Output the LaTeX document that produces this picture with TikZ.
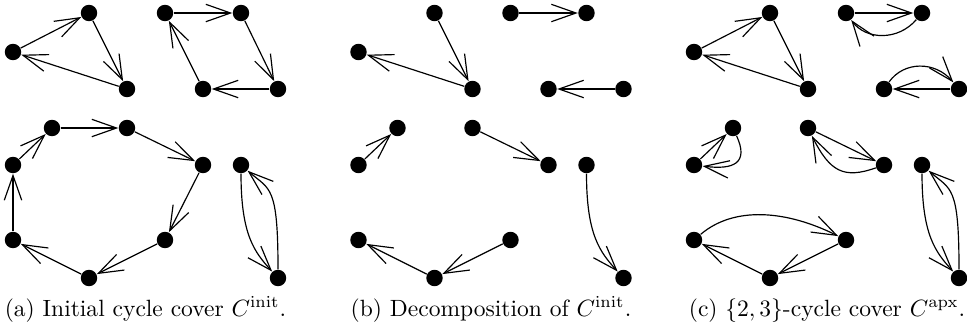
\documentclass[tikz,border=0pt]{standalone}
\usetikzlibrary{arrows.meta}
\begin{document}
\begin{tikzpicture}[x=0.425pt,y=-0.425pt,
  vtx/.style={circle,fill=black,inner sep=0pt,minimum size=7pt},
  arr/.style={line width=0.5pt,-{Straight Barb[length=10.5pt,width=7.4pt]}},
  captxt/.style={anchor=base,inner sep=0pt}]
\useasboundingbox (0,0) rectangle (967,330);
% vertices of the three panels
\foreach \p/\s in {a/0,b/345.5,c/681}{
  \foreach \n/\x/\y in {1/89/13,2/13/52,3/127/89,4/165/13,5/241/13,6/278/89,7/203/89,
     8/52/128,9/127/128,10/203/165,11/165/240,12/89/278,13/13/240,14/13/165,15/241/165,16/278/278}{
    \node[vtx] (\p\n) at (\x+\s,\y) {};
  }
}
% panel (a)
\draw[arr] (a2) -- (a1);
\draw[arr] (a1) -- (a3);
\draw[arr] (a3) -- (a2);
\draw[arr] (a4) -- (a5);
\draw[arr] (a5) -- (a6);
\draw[arr] (a6) -- (a7);
\draw[arr] (a7) -- (a4);
\draw[arr] (a8) -- (a9);
\draw[arr] (a9) -- (a10);
\draw[arr] (a10) -- (a11);
\draw[arr] (a11) -- (a12);
\draw[arr] (a12) -- (a13);
\draw[arr] (a13) -- (a14);
\draw[arr] (a14) -- (a8);
\draw[arr] (a15) .. controls +(0,70) and +(-23.5,-26) .. (a16);
\draw[arr] (a16) .. controls +(0,-93) and +(29,25) .. (a15);
% panel (b)
\draw[arr] (b1) -- (b3);
\draw[arr] (b3) -- (b2);
\draw[arr] (b4) -- (b5);
\draw[arr] (b6) -- (b7);
\draw[arr] (b14) -- (b8);
\draw[arr] (b9) -- (b10);
\draw[arr] (b11) -- (b12);
\draw[arr] (b12) -- (b13);
\draw[arr] (b15) .. controls +(0,70) and +(-23.5,-26) .. (b16);
% panel (c)
\draw[arr] (c2) -- (c1);
\draw[arr] (c1) -- (c3);
\draw[arr] (c3) -- (c2);
\draw[arr] (c4) -- (c5);
\draw[arr] (c5) .. controls +(-24,28) and +(20,27) .. (c4);
\draw[arr] (c6) -- (c7);
\draw[arr] (c7) .. controls +(20,-28) and +(-24,-28) .. (c6);
\draw[arr] (c14) -- (c8);
\draw[arr] (c8) .. controls +(16,35) and +(40,5) .. (c14);
\draw[arr] (c9) -- (c10);
\draw[arr] (c10) .. controls +(-40,14) and +(22,44) .. (c9);
\draw[arr] (c11) -- (c12);
\draw[arr] (c12) -- (c13);
\draw[arr] (c13) .. controls +(40,-34) and +(-60,-30) .. (c11);
\draw[arr] (c15) .. controls +(0,70) and +(-23.5,-26) .. (c16);
\draw[arr] (c16) .. controls +(0,-93) and +(29,25) .. (c15);
% captions
\node[captxt] (capa) at (145.5,316) {(a) Initial cycle cover $C^{\mathrm{init}}$.};
\node[captxt] (capb) at (491,316) {(b) Decomposition of $C^{\mathrm{init}}$.};
\node[captxt] (capc) at (827,316) {(c) $\{2,3\}$-cycle cover $C^{\mathrm{apx}}$.};
\end{tikzpicture}
\end{document}
